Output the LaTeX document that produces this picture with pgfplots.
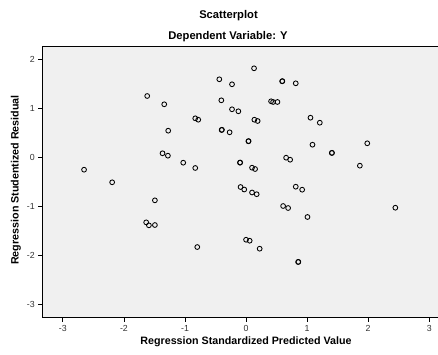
\documentclass[border=0pt]{standalone}
\usepackage{pgfplots}
\pgfplotsset{compat=1.18}
\usepackage{fontspec}
\setmainfont{Liberation Sans}
\definecolor{bgc}{HTML}{F0F0F0}
\begin{document}
\begin{tikzpicture}
\useasboundingbox (-42.3pt,-36.3pt) rectangle (395.7pt,317.7pt);
\begin{axis}[
  at={(0,0)}, anchor=south west,
  scale only axis,
  width=397pt, height=271.4pt,
  xmin=-3.337, xmax=3.165,
  ymin=-3.273, ymax=2.265,
  axis background/.style={fill=bgc},
  axis line style={line width=1pt, black},
  xtick={-3,-2,-1,0,1,2,3},
  ytick={-3,-2,-1,0,1,2},
  xtick pos=bottom, ytick pos=left,
  tick align=outside,
  major tick length=4pt,
  tick style={line width=0.8pt, black},
  /pgf/number format/assume math mode=true,
  ticklabel style={font=\fontsize{8.8}{10}\selectfont, text=black!80},
  clip=false,
]
\addplot[only marks, mark=o, mark size=2.4pt, mark options={line width=0.85pt, black}] coordinates {
(-0.438,1.592) (-0.230,1.490) (-1.619,1.251) (-1.340,1.082) (-0.405,1.163)
(-0.230,0.980) (-0.126,0.939) (-0.832,0.796) (-0.783,0.767) (-1.275,0.543)
(-0.400,0.557) (-0.395,0.562) (-0.269,0.510) (-1.368,0.082) (-1.280,0.033)
(-1.029,-0.110) (-0.832,-0.218) (-2.653,-0.253) (-2.193,-0.510)
(-0.100,-0.110) (-0.096,-0.106) (-0.090,-0.606) (-0.030,-0.657)
(0.131,1.816) (0.591,1.551) (0.595,1.555) (0.814,1.510)
(0.410,1.143) (0.443,1.129) (0.514,1.129)
(0.136,0.767) (0.190,0.741) (1.055,0.808) (1.208,0.706)
(0.038,0.327) (0.042,0.331) (1.088,0.257) (1.985,0.286)
(1.404,0.088) (1.408,0.092)
(0.098,-0.212) (0.148,-0.239) (0.656,-0.008) (0.722,-0.049) (1.864,-0.171)
(0.098,-0.718) (0.174,-0.753) (0.814,-0.600) (0.919,-0.661)
(0.607,-0.994) (0.689,-1.035) (1.006,-1.218) (2.445,-1.029)
(0.000,-1.682) (0.059,-1.702) (0.223,-1.865)
(0.853,-2.137) (0.857,-2.133)
(-1.493,-0.878) (-1.636,-1.327) (-1.591,-1.388) (-1.493,-1.382) (-0.799,-1.831)
};
\end{axis}
\node[font=\fontsize{11.2}{13}\selectfont\bfseries] at (186.2pt,301.7pt) {Scatterplot};
\node[font=\fontsize{11.2}{13}\selectfont\bfseries] at (185.7pt,280.7pt) {Dependent Variable: Y};
\node[font=\fontsize{10.7}{13}\selectfont\bfseries] at (203.7pt,-24.3pt) {Regression Standardized Predicted Value};
\node[font=\fontsize{10.7}{13}\selectfont\bfseries, rotate=90] at (-26.3pt,137.7pt) {Regression Studentized Residual};
\end{tikzpicture}
\end{document}
